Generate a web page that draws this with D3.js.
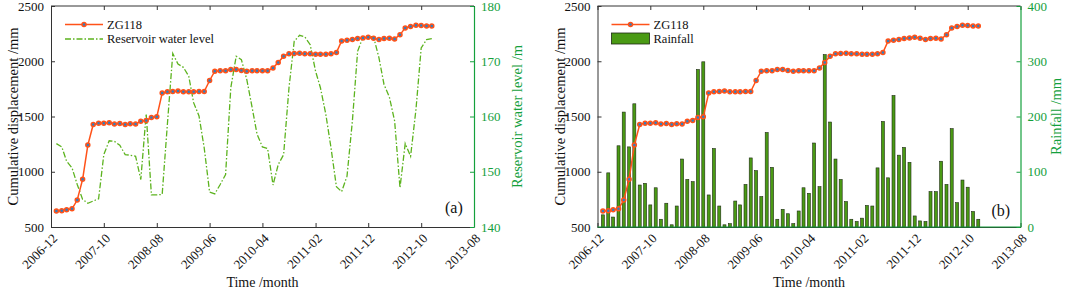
<!DOCTYPE html>
<html>
<head>
<meta charset="utf-8">
<script src="https://cdn.jsdelivr.net/npm/d3@7"></script>
<style>
  body { margin: 0; background: #fff; }
  svg text { font-family: "Liberation Serif", "Times New Roman", serif; }
</style>
</head>
<body>
<svg id="chart" width="1065" height="291"></svg>
<script>
// monthly readings, 2007-01 .. 2012-12
const months = d3.timeMonth.range(new Date(2007, 0, 1), new Date(2013, 0, 1));

const displacement = [
  645, 648, 656, 665, 744, 931, 1241, 1428, 1440, 1440, 1443, 1431,
  1437, 1428, 1434, 1431, 1458, 1464, 1491, 1497, 1712, 1723, 1726, 1730,
  1723, 1723, 1723, 1726, 1726, 1826, 1910, 1913, 1913, 1925, 1925, 1916,
  1910, 1913, 1913, 1913, 1913, 1940, 1989, 2046, 2067, 2070, 2073, 2067,
  2067, 2064, 2064, 2064, 2067, 2079, 2184, 2190, 2196, 2205, 2211, 2218,
  2208, 2196, 2205, 2208, 2202, 2239, 2302, 2314, 2326, 2323, 2320, 2320
];

const waterLevel = [
  155.1, 154.5, 151.9, 150.7, 147.7, 145.0, 144.3, 144.7, 145.1, 153.1, 155.6, 155.5,
  154.8, 153.1, 153.0, 152.8, 148.6, 160.5, 145.8, 145.8, 145.9, 158.6, 171.4, 169.5,
  168.9, 167.3, 162.5, 160.1, 154.3, 146.3, 146.0, 147.7, 149.5, 165.2, 170.9, 170.3,
  166.7, 161.6, 156.8, 154.5, 154.2, 147.6, 151.3, 153.1, 165.2, 173.6, 174.7, 174.4,
  173.0, 168.2, 165.2, 160.4, 154.3, 147.3, 146.4, 149.2, 159.2, 171.8, 174.4, 174.5,
  174.4, 170.6, 165.8, 163.5, 159.2, 147.1, 155.1, 152.8, 161.3, 172.4, 173.9, 174.1
];

const rainfall = [
  22, 98, 18, 147, 208, 145, 223, 76, 79, 40, 71, 14,
  43, 4, 38, 123, 86, 82, 285, 299, 58, 142, 38, 4,
  6, 47, 40, 77, 125, 102, 55, 171, 108, 14, 32, 24,
  6, 29, 71, 61, 152, 73, 312, 190, 123, 86, 46, 14,
  10, 16, 39, 38, 107, 191, 89, 238, 130, 144, 117, 20,
  11, 10, 64, 64, 119, 77, 178, 44, 85, 72, 28, 14
];

const tickLabels = ["2006-12", "2007-10", "2008-08", "2009-06", "2010-04",
                    "2011-02", "2011-12", "2012-10", "2013-08"];
const dispTicks = [500, 1000, 1500, 2000, 2500];
const levelTicks = [140, 150, 160, 170, 180];
const rainTicks = [0, 100, 200, 300, 400];

const parseMonth = d3.timeParse("%Y-%m");
const axisGray = "#333";
const green = "#14a03c";
const lineColor = "#ff5219";
const markerFill = "#2f7fc1";
const levelColor = "#5cb31e";
const barColor = "#4a9a14";
const serif = '"Liberation Serif", "Times New Roman", serif';

const svg = d3.select("#chart");
const plotTop = 6, plotBottom = 227;

function drawPanel(x0, x1, opts) {
  const g = svg.append("g").attr("font-family", serif);

  const x = d3.scaleTime()
    .domain([parseMonth(tickLabels[0]), parseMonth(tickLabels[tickLabels.length - 1])])
    .range([x0, x1]);
  const y = d3.scaleLinear().domain([500, 2500]).range([plotBottom, plotTop]);
  const y2 = d3.scaleLinear().domain(opts.rightDomain).range([plotBottom, plotTop]);

  // frame: top line
  g.append("line")
    .attr("x1", x0).attr("x2", x1).attr("y1", plotTop).attr("y2", plotTop)
    .attr("stroke", axisGray).attr("stroke-width", 1);

  // bottom axis
  const xAxis = g.append("g")
    .attr("transform", `translate(0,${plotBottom})`)
    .call(d3.axisBottom(x).tickValues(tickLabels.map(parseMonth)).tickSize(-4).tickSizeOuter(0).tickFormat(""));
  xAxis.select(".domain").attr("stroke", axisGray);
  xAxis.selectAll(".tick line").attr("stroke", axisGray);

  // top ticks
  g.append("g")
    .attr("transform", `translate(0,${plotTop})`)
    .call(d3.axisTop(x).tickValues(tickLabels.map(parseMonth)).tickSize(-4).tickSizeOuter(0).tickFormat(""))
    .call(a => a.select(".domain").remove())
    .selectAll(".tick line").attr("stroke", axisGray);

  g.selectAll(".xlab")
    .data(tickLabels)
    .enter()
    .append("text")
    .attr("transform", d => `translate(${x(parseMonth(d)) + 4},${plotBottom + 9}) rotate(-45)`)
    .attr("text-anchor", "end")
    .attr("dy", "0.35em")
    .attr("font-size", 13)
    .attr("fill", "#111")
    .text(d => d);

  // left axis
  const yAxis = g.append("g")
    .attr("transform", `translate(${x0},0)`)
    .call(d3.axisLeft(y).tickValues(dispTicks).tickFormat(d3.format("d"))
      .tickSize(-4).tickSizeOuter(0).tickPadding(7));
  yAxis.attr("font-family", serif);
  yAxis.select(".domain").attr("stroke", axisGray);
  yAxis.selectAll(".tick line").attr("stroke", axisGray);
  yAxis.selectAll("text").attr("font-size", 13).attr("fill", "#111");

  // right axis
  const y2Axis = g.append("g")
    .attr("transform", `translate(${x1},0)`)
    .call(d3.axisRight(y2).tickValues(opts.rightTicks).tickFormat(d3.format("d"))
      .tickSize(-4).tickSizeOuter(0).tickPadding(7));
  y2Axis.attr("font-family", serif);
  y2Axis.select(".domain").attr("stroke", green).attr("stroke-width", 1.2);
  y2Axis.selectAll(".tick line").attr("stroke", green);
  y2Axis.selectAll("text").attr("font-size", 13).attr("fill", green);

  // titles
  g.append("text")
    .attr("transform", `translate(${x0 - 38},${(plotTop + plotBottom) / 2}) rotate(-90)`)
    .attr("text-anchor", "middle")
    .attr("dy", "0.35em")
    .attr("font-size", 14.5)
    .attr("fill", "#111")
    .text("Cumulative displacement /mm");

  g.append("text")
    .attr("transform", `translate(${x1 + opts.rightTitleOffset},${(plotTop + plotBottom) / 2}) rotate(-90)`)
    .attr("text-anchor", "middle")
    .attr("dy", "0.35em")
    .attr("font-size", 14.5)
    .attr("fill", green)
    .text(opts.rightTitle);

  g.append("text")
    .attr("x", (x0 + x1) / 2)
    .attr("y", 287)
    .attr("text-anchor", "middle")
    .attr("font-size", 14)
    .attr("fill", "#111")
    .text("Time /month");

  opts.drawSecondary(g, x, y2);

  // ZG118 line
  const line = d3.line()
    .x((d, i) => x(months[i]))
    .y(d => y(d));

  g.append("path")
    .datum(displacement)
    .attr("fill", "none")
    .attr("stroke", lineColor)
    .attr("stroke-width", 1.5)
    .attr("d", line);

  g.selectAll(".pt")
    .data(displacement)
    .enter()
    .append("circle")
    .attr("cx", (d, i) => x(months[i]))
    .attr("cy", d => y(d))
    .attr("r", 2)
    .attr("fill", markerFill)
    .attr("stroke", lineColor)
    .attr("stroke-width", 1.5);

  // legend
  const lx = x0 + 14;
  g.append("line")
    .attr("x1", lx).attr("x2", lx + 38).attr("y1", 24.5).attr("y2", 24.5)
    .attr("stroke", lineColor).attr("stroke-width", 1.5);
  g.append("circle")
    .attr("cx", lx + 19).attr("cy", 24.5).attr("r", 2)
    .attr("fill", markerFill).attr("stroke", lineColor).attr("stroke-width", 1.5);
  g.append("text")
    .attr("x", lx + 42).attr("y", 24.5).attr("dy", "0.35em")
    .attr("font-size", 12.5).attr("fill", "#111")
    .text("ZG118");

  opts.drawLegend(g, lx);

  g.append("text")
    .attr("x", x1 - 29).attr("y", opts.tagY)
    .attr("font-size", 16).attr("fill", "#111")
    .text(opts.tag);
}

drawPanel(51, 474, {
  rightDomain: [140, 180],
  rightTicks: levelTicks,
  rightTitle: "Reservoir water level /m",
  rightTitleOffset: 43,
  tag: "(a)",
  tagY: 213,
  drawSecondary: (g, x, y2) => {
    const line = d3.line()
      .x((d, i) => x(months[i]))
      .y(d => y2(d));
    g.append("path")
      .datum(waterLevel)
      .attr("fill", "none")
      .attr("stroke", levelColor)
      .attr("stroke-width", 1.3)
      .attr("stroke-dasharray", "6,2,1.5,2")
      .attr("d", line);
  },
  drawLegend: (g, lx) => {
    g.append("line")
      .attr("x1", lx).attr("x2", lx + 38).attr("y1", 39).attr("y2", 39)
      .attr("stroke", levelColor).attr("stroke-width", 1.3)
      .attr("stroke-dasharray", "6,2,1.5,2");
    g.append("text")
      .attr("x", lx + 42).attr("y", 39).attr("dy", "0.35em")
      .attr("font-size", 12.5).attr("fill", "#111")
      .text("Reservoir water level");
  }
});

drawPanel(597.5, 1020.5, {
  rightDomain: [0, 400],
  rightTicks: rainTicks,
  rightTitle: "Rainfall /mm",
  rightTitleOffset: 35.5,
  tag: "(b)",
  tagY: 216,
  drawSecondary: (g, x, y2) => {
    g.selectAll(".bar")
      .data(rainfall)
      .enter()
      .append("rect")
      .attr("x", (d, i) => x(months[i]) - 1.5)
      .attr("y", d => y2(d))
      .attr("width", 3)
      .attr("height", d => plotBottom - y2(d))
      .attr("fill", barColor)
      .attr("stroke", "#1e2a14")
      .attr("stroke-width", 0.6);
    g.append("line")
      .attr("x1", x.range()[0]).attr("x2", x.range()[1])
      .attr("y1", plotBottom).attr("y2", plotBottom)
      .attr("stroke", green).attr("stroke-width", 1.2);
  },
  drawLegend: (g, lx) => {
    g.append("rect")
      .attr("x", lx).attr("y", 33).attr("width", 38).attr("height", 11)
      .attr("fill", barColor).attr("stroke", "#1e2a14").attr("stroke-width", 0.8);
    g.append("text")
      .attr("x", lx + 42).attr("y", 39).attr("dy", "0.35em")
      .attr("font-size", 12.5).attr("fill", "#111")
      .text("Rainfall");
  }
});
</script>
</body>
</html>
